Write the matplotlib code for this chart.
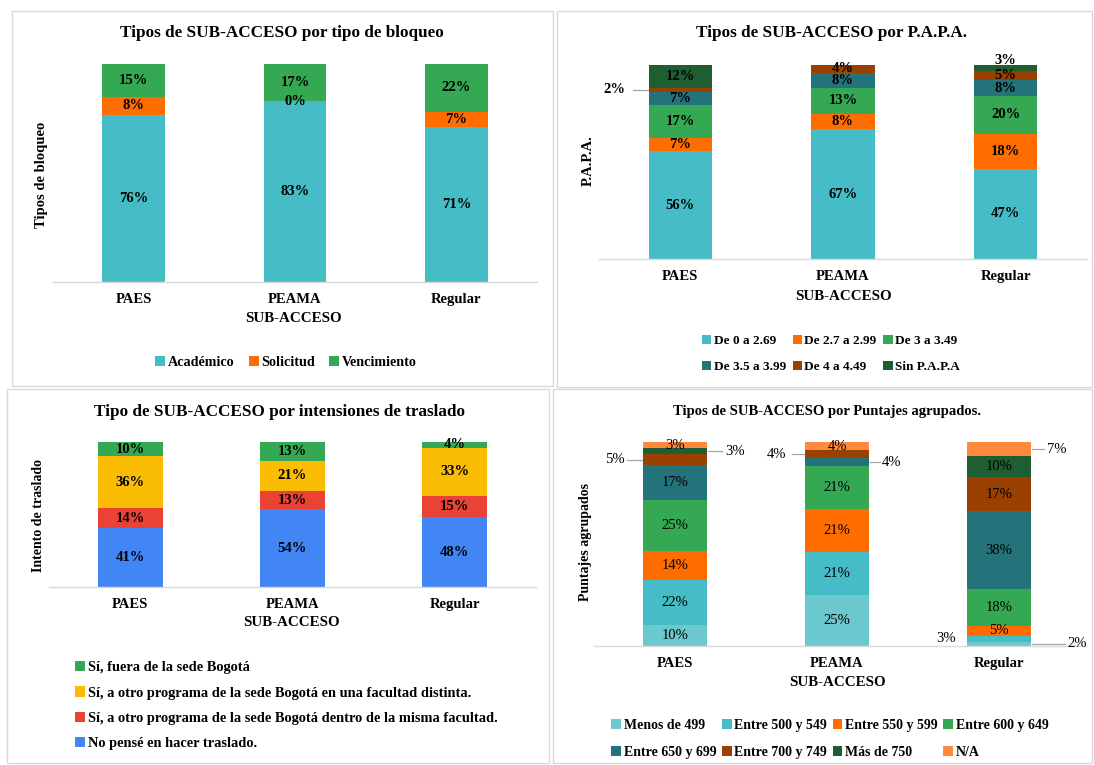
import numpy as np
import matplotlib
matplotlib.use('Agg')
import matplotlib.pyplot as plt
from matplotlib.patches import Patch, Rectangle

W, H = 1094, 765
plt.rcParams['font.family'] = ['Liberation Serif', 'DejaVu Serif']
plt.rcParams['font.weight'] = 'bold'

subacceso = ['PAES', 'PEAMA', 'Regular']

# --- Tipos de bloqueo ---
bloqueo_series = ['Académico', 'Solicitud', 'Vencimiento']
bloqueo_academico = [76, 83, 71]
bloqueo_solicitud = [8, 0, 7]
bloqueo_vencimiento = [15, 17, 22]

# --- P.A.P.A. ---
papa_series = ['De 0 a 2.69', 'De 2.7 a 2.99', 'De 3 a 3.49',
               'De 3.5 a 3.99', 'De 4 a 4.49', 'Sin P.A.P.A']
papa_0_269 = [56, 67, 47]
papa_27_299 = [7, 8, 18]
papa_3_349 = [17, 13, 20]
papa_35_399 = [7, 8, 8]
papa_4_449 = [2, 4, 5]
papa_sin = [12, 0, 3]

# --- Intensiones de traslado ---
traslado_series = ['No pensé en hacer traslado.',
                   'Sí, a otro programa de la sede Bogotá dentro de la misma facultad.',
                   'Sí, a otro programa de la sede Bogotá en una facultad distinta.',
                   'Sí, fuera de la sede Bogotá']
traslado_no = [41, 54, 48]
traslado_misma = [14, 13, 15]
traslado_distinta = [36, 21, 33]
traslado_fuera = [10, 13, 4]

# --- Puntajes agrupados ---
puntaje_series = ['Menos de 499', 'Entre 500 y 549', 'Entre 550 y 599', 'Entre 600 y 649',
                  'Entre 650 y 699', 'Entre 700 y 749', 'Más de 750', 'N/A']
p_menos_499 = [10, 25, 2]
p_500_549 = [22, 21, 3]
p_550_599 = [14, 21, 5]
p_600_649 = [25, 21, 18]
p_650_699 = [17, 4, 38]
p_700_749 = [5, 4, 17]
p_mas_750 = [3, 0, 10]
p_na = [3, 4, 7]

TEAL = '#46BDC6'
ORANGE = '#FF6D01'
GREEN = '#34A853'
DTEAL = '#24737A'
BROWN = '#9A4000'
DGREEN = '#1E5E31'
LTEAL = '#6CC8CF'
LORANGE = '#FF8A3D'
BLUE = '#4285F4'
RED = '#EA4335'
YELLOW = '#FBBC04'
GRID = '#D9D9D9'
LEADER = '#A6A6A6'


def add_ax(fig, left, top, right, bottom):
    return fig.add_axes([left / W, 1 - bottom / H, (right - left) / W, (bottom - top) / H])


def ftext(fig, x, y, s, **kw):
    fig.text(x / W, 1 - y / H, s, ha='center', va='center', **kw)


def stacked(ax, series, colors, show_zero=False, lweight='bold', outside=None,
            width=0.39, px_unit=162.0, px_h=200.0):
    outside = outside or {}
    x = np.arange(len(subacceso))
    data = np.array(series, dtype=float)
    totals = data.sum(axis=0)
    bottom = np.zeros(len(x))
    for j, col in enumerate(colors):
        h = data[j] / totals * 100
        ax.bar(x, h, width, bottom=bottom, color=col, linewidth=0)
        for i in range(len(x)):
            v = int(data[j][i])
            yc = bottom[i] + h[i] / 2
            if (i, j) in outside:
                side, line_px, text_px = outside[(i, j)]
                if side == 'above':
                    ax.text(i, 100 + line_px / px_h * 100, f'{v}%', ha='center', va='center',
                            fontsize=10.5, weight=lweight, clip_on=False)
                    continue
                sgn = -1 if side == 'left' else 1
                edge = i + sgn * width / 2
                if line_px > 0:
                    ax.plot([edge + sgn * 1 / px_unit, edge + sgn * line_px / px_unit], [yc, yc],
                            color=LEADER, lw=0.9, clip_on=False)
                ax.text(edge + sgn * text_px / px_unit, yc, f'{v}%',
                        ha='right' if side == 'left' else 'left', va='center',
                        fontsize=10.5, weight=lweight, clip_on=False)
            elif v > 0 or show_zero:
                ax.text(i, yc, f'{v}%', ha='center', va='center', fontsize=10.5, weight=lweight)
        bottom += h
    ax.set_xlim(-0.5, len(x) - 0.5)
    ax.set_ylim(0, 100)
    ax.set_xticks(x)
    ax.set_xticklabels(subacceso, fontsize=10.5, weight='bold')
    ax.tick_params(axis='x', length=0, pad=8)
    ax.set_yticks([])
    for s in ['top', 'right', 'left']:
        ax.spines[s].set_visible(False)
    ax.spines['bottom'].set_color(GRID)
    ax.spines['bottom'].set_linewidth(1.0)


def handles(labels, colors):
    return [Patch(facecolor=c, edgecolor='none', label=l) for l, c in zip(labels, colors)]


fig = plt.figure(figsize=(W / 100, H / 100), dpi=100)
fig.patch.set_facecolor('white')

# bordes de cada panel
for (l, t, r, b) in [(12, 11, 553, 386), (557, 11, 1092, 387), (7, 389, 549, 763), (553, 389, 1092, 763)]:
    fig.patches.append(Rectangle((l / W, 1 - b / H), (r - l) / W, (b - t) / H, transform=fig.transFigure,
                                 fill=False, edgecolor=GRID, lw=1.0))

# ---------- Chart 1 ----------
ax1 = add_ax(fig, 53, 64, 537, 282)
c1 = [TEAL, ORANGE, GREEN]
stacked(ax1, [bloqueo_academico, bloqueo_solicitud, bloqueo_vencimiento], c1, show_zero=True,
        px_unit=161.3, px_h=218)
ftext(fig, 282, 33, 'Tipos de SUB-ACCESO por tipo de bloqueo', fontsize=12.3, weight='bold')
ftext(fig, 42, 175, 'Tipos de bloqueo', fontsize=10.5, weight='bold', rotation=90)
ftext(fig, 294, 318, 'SUB-ACCESO', fontsize=10.8, weight='bold')
fig.legend(handles=handles(bloqueo_series, c1), loc='center', bbox_to_anchor=(286 / W, 1 - 362 / H),
           ncol=3, frameon=False, fontsize=10.2, handlelength=0.7, handleheight=0.7,
           handletextpad=0.2, columnspacing=1.0)

# ---------- Chart 2 ----------
ax2 = add_ax(fig, 599, 65, 1087, 259)
c2 = [TEAL, ORANGE, GREEN, DTEAL, BROWN, DGREEN]
stacked(ax2, [papa_0_269, papa_27_299, papa_3_349, papa_35_399, papa_4_449, papa_sin], c2,
        outside={(0, 4): ('left', 16, 23), (2, 5): ('above', 5, 0)}, px_unit=162.7, px_h=194)
ftext(fig, 831, 33, 'Tipos de SUB-ACCESO por P.A.P.A.', fontsize=12.3, weight='bold')
ftext(fig, 588, 161, 'P.A.P.A.', fontsize=10.5, weight='bold', rotation=90)
ftext(fig, 843, 297, 'SUB-ACCESO', fontsize=10.8, weight='bold')
h2 = handles(papa_series, c2)
order = [0, 3, 1, 4, 2, 5]
fig.legend(handles=[h2[k] for k in order], loc='center', bbox_to_anchor=(831 / W, 1 - 354 / H),
           ncol=3, frameon=False, fontsize=9.5, handlelength=0.7, handleheight=0.7,
           handletextpad=0.2, columnspacing=0.5, labelspacing=1.1)

# ---------- Chart 3 ----------
ax3 = add_ax(fig, 49, 442, 536, 587)
c3 = [BLUE, RED, YELLOW, GREEN]
stacked(ax3, [traslado_no, traslado_misma, traslado_distinta, traslado_fuera], c3,
        width=0.40, px_unit=162.5, px_h=145)
ftext(fig, 280, 412, 'Tipo de SUB-ACCESO por intensiones de traslado', fontsize=12.3, weight='bold')
ftext(fig, 39, 516, 'Intento de traslado', fontsize=10, weight='bold', rotation=90)
ftext(fig, 292, 623, 'SUB-ACCESO', fontsize=10.8, weight='bold')
h3 = handles(traslado_series, c3)[::-1]
fig.legend(handles=h3, loc='upper left', bbox_to_anchor=(62 / W, 1 - 648 / H),
           ncol=1, frameon=False, fontsize=10.4, handlelength=0.7, handleheight=0.7,
           handletextpad=0.2, labelspacing=0.85)

# ---------- Chart 4 ----------
ax4 = add_ax(fig, 594, 442, 1080, 646)
c4 = [LTEAL, TEAL, ORANGE, GREEN, DTEAL, BROWN, DGREEN, LORANGE]
stacked(ax4, [p_menos_499, p_500_549, p_550_599, p_600_649, p_650_699, p_700_749, p_mas_750, p_na], c4,
        lweight='normal', width=0.40, px_unit=162, px_h=204,
        outside={(0, 5): ('left', 16, 18), (0, 6): ('right', 15, 18),
                 (1, 5): ('left', 13, 18), (1, 4): ('right', 11, 12),
                 (2, 7): ('right', 13, 16), (2, 1): ('left', 0, 11),
                 (2, 0): ('right', 34, 36)})
ftext(fig, 827, 412, 'Tipos de SUB-ACCESO por Puntajes agrupados.', fontsize=10.5, weight='bold')
ftext(fig, 585, 542, 'Puntajes agrupados', fontsize=10, weight='bold', rotation=90)
ftext(fig, 838, 683, 'SUB-ACCESO', fontsize=10.8, weight='bold')
h4 = handles(puntaje_series, c4)
order4 = [0, 4, 1, 5, 2, 6, 3, 7]
fig.legend(handles=[h4[k] for k in order4], loc='center', bbox_to_anchor=(830 / W, 1 - 739 / H),
           ncol=4, frameon=False, fontsize=10, handlelength=0.7, handleheight=0.7,
           handletextpad=0.2, columnspacing=0.4, labelspacing=1.0)

fig.savefig('out.png', dpi=100, facecolor='white')
